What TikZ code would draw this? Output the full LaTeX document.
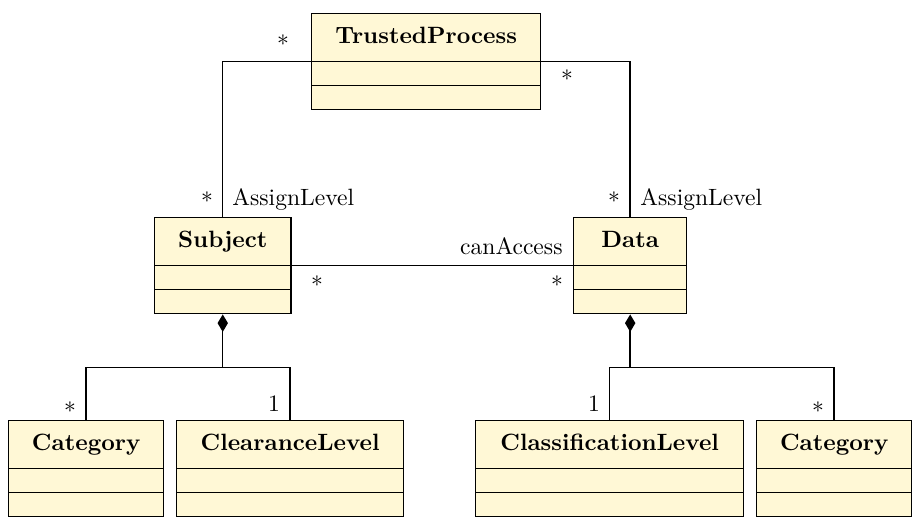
\documentclass[tikz,border=0pt]{standalone}
\usetikzlibrary{shapes.multipart,arrows.meta}
\definecolor{classfill}{RGB}{255,248,214}
\newcommand{\classparts}[1]{\rule[-7.4pt]{0pt}{19.75pt}\textbf{#1}\nodepart{two}\rule{0pt}{9.58pt}\nodepart{three}\rule{0pt}{9.58pt}}
\begin{document}
\begin{tikzpicture}[x=0.424pt,y=-0.424pt,
    umlclass/.style={rectangle split, rectangle split parts=3, draw, fill=classfill,
      line width=0.6pt, inner xsep=0pt, inner ysep=0pt, anchor=north west},
    assoc/.style={line width=0.6pt},
    comp/.style={line width=0.6pt, {Diamond[length=7.4pt,width=4.4pt]}-},
    mult/.style={inner sep=0pt}]
  \useasboundingbox (0,0) rectangle (920,520);
  % classes
  \node[umlclass, minimum width=97.1pt] (tp) at (311,13) {\classparts{TrustedProcess}};
  \node[umlclass, minimum width=57.7pt] (sub) at (154,217) {\classparts{Subject}};
  \node[umlclass, minimum width=47.9pt] (data) at (573,217) {\classparts{Data}};
  \node[umlclass, minimum width=65.7pt] (cat1) at (8,420) {\classparts{Category}};
  \node[umlclass, minimum width=96.2pt] (clr) at (176,420) {\classparts{ClearanceLevel}};
  \node[umlclass, minimum width=113.6pt] (cls) at (475,420) {\classparts{ClassificationLevel}};
  \node[umlclass, minimum width=65.7pt] (cat2) at (756,420) {\classparts{Category}};
  % associations
  \draw[assoc] (tp.text split west) -| (sub.north);
  \draw[assoc] (tp.text split east) -| (data.north);
  \draw[assoc] (sub.text split east) -- (data.text split west);
  % compositions
  \draw[comp] (sub.south) -- ++(0,53) coordinate (subjoin);
  \draw[assoc] (subjoin) -| (cat1.north);
  \draw[assoc] (subjoin) -| (clr.north);
  \draw[comp] (data.south) -- ++(0,53) coordinate (datajoin);
  \draw[assoc] (datajoin) -| (cls.north);
  \draw[assoc] (datajoin) -| (cat2.north);
  % multiplicities and roles
  \node[mult] (m1) at (283,44) {*};
  \node[mult] (m2) at (567,79) {*};
  \node[mult] (m3) at (207,201) {*};
  \node[mult, anchor=base west] (r1) at (232,206) {AssignLevel};
  \node[mult] (m4) at (614,201) {*};
  \node[mult, anchor=base west] (r2) at (640,206) {AssignLevel};
  \node[mult, anchor=base east] (r3) at (563,255) {canAccess};
  \node[mult] (m5) at (317,285) {*};
  \node[mult] (m6) at (557,285) {*};
  \node[mult] (m7) at (70,411) {*};
  \node[mult, anchor=base] (m8) at (274,412) {1};
  \node[mult, anchor=base] (m9) at (594,412) {1};
  \node[mult] (m10) at (818,411) {*};
\end{tikzpicture}
\end{document}
